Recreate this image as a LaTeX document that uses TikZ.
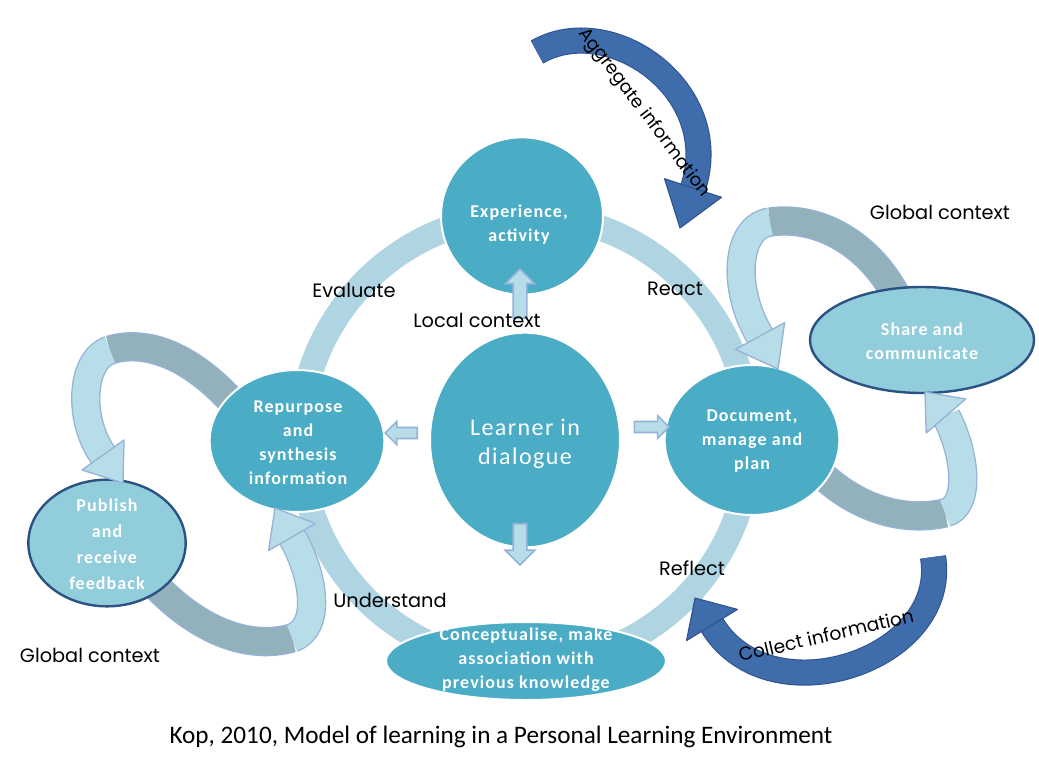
\documentclass[tikz,border=0pt]{standalone}
\usepackage{fontspec}
\setmainfont{Carlito}
\newfontfamily\handf{Poppins}
\newfontfamily\nodef[LetterSpace=6]{Carlito}
\usetikzlibrary{shapes.geometric,shapes.arrows}
\definecolor{nodeblue}{HTML}{4BACC6}
\definecolor{ringblue}{HTML}{B0D5E2}
\definecolor{paleblue}{HTML}{92CDDC}
\definecolor{darkedge}{HTML}{2A5283}
\definecolor{tailgray}{HTML}{93B1BB}
\definecolor{headlight}{HTML}{B7DDE8}
\definecolor{headedge}{HTML}{95B3D7}
\definecolor{deepblue}{HTML}{3F6DAB}
\definecolor{deepedge}{HTML}{2F528F}
\tikzset{
  mainnode/.style={ellipse, fill=nodeblue, draw=white, line width=1.5pt, inner sep=0pt},
  outnode/.style={ellipse, fill=paleblue, draw=darkedge, line width=1.8pt, inner sep=0pt},
  nodetext/.style={text=white, font=\nodef\bfseries\fontsize{13.5}{18}\selectfont, align=center, inner sep=0pt},
  handlbl/.style={font=\handf\fontsize{14.5}{17}\selectfont, inner sep=0pt},
  lightband/.style={draw=headedge, line width=1pt, double=headlight, double distance=20pt},
  grayband/.style={draw=headedge, line width=1pt, double=tailgray, double distance=20pt},
  lighthead/.style={fill=headlight, draw=headedge, line width=1pt, line join=round},
  deepband/.style={draw=deepedge, line width=0.8pt, double=deepblue, double distance=18pt},
  deephead/.style={fill=deepblue, draw=deepedge, line width=0.8pt, line join=round},
  smallarrow/.style={single arrow, fill=headlight, draw=headedge, line width=1.2pt,
     inner xsep=0pt, inner ysep=4.5pt, single arrow head extend=6pt, single arrow head indent=0pt}
}
\begin{document}
\begin{tikzpicture}[x=0.75pt,y=-0.75pt]
\useasboundingbox[fill=white] (0,0) rectangle (1039,760);

% main ring
\draw[ringblue, line width=19pt] (525,440) circle[radius=225];

% global context bands (drawn below nodes)
\coordinate (g1a) at (897,297); \coordinate (g1b) at (770,222); \coordinate (g1c) at (760,336);
\draw[grayband] (g1a) .. controls (870,245) and (820,215) .. (g1b);
\draw[lightband] (g1b) .. controls (735,227) and (732,290) .. (g1c);

\coordinate (g2a) at (822,475); \coordinate (g2b) at (945,513); \coordinate (g2c) at (946,416);
\draw[grayband] (g2a) .. controls (860,510) and (905,522) .. (g2b);
\draw[lightband] (g2b) .. controls (972,506) and (965,452) .. (g2c);

\coordinate (g3a) at (235,405); \coordinate (g3b) at (110,350); \coordinate (g3c) at (103,455);
\draw[grayband] (g3a) .. controls (195,360) and (150,338) .. (g3b);
\draw[lightband] (g3b) .. controls (80,360) and (78,420) .. (g3c);

\coordinate (g4a) at (155,585); \coordinate (g4b) at (292,638); \coordinate (g4c) at (292,537);
\draw[grayband] (g4a) .. controls (200,632) and (250,650) .. (g4b);
\draw[lightband] (g4b) .. controls (322,628) and (314,575) .. (g4c);

% nodes
\node[mainnode, minimum width=121.5pt, minimum height=118pt] (exp) at (522,216) {};
\node[mainnode, minimum width=142.5pt, minimum height=161pt] (learner) at (525,440) {};
\node[mainnode, minimum width=131pt, minimum height=106.5pt] (repurpose) at (297,441) {};
\node[mainnode, minimum width=131pt, minimum height=112.5pt] (document) at (752,440) {};
\node[mainnode, minimum width=210pt, minimum height=58.5pt] (concept) at (526,661) {};
\node[outnode, minimum width=168pt, minimum height=79.5pt] (share) at (922,340) {};
\node[outnode, minimum width=118pt, minimum height=95pt] (publish) at (107,543) {};

\node[nodetext] (texp) at (519,225) {Experience,\\activity};
\node[nodetext, font=\nodef\fontsize{18}{22}\selectfont] (tlearner) at (525,444) {Learner in\\dialogue};
\node[nodetext] (trep) at (298,443) {Repurpose\\and\\synthesis\\information};
\node[nodetext] (tdoc) at (752,441) {Document,\\manage and\\plan};
\node[nodetext] (tcon) at (526,660) {Conceptualise, make\\association with\\previous knowledge};
\node[nodetext] (tshare) at (922,341) {Share and\\communicate};
\node[nodetext, font=\nodef\bfseries\fontsize{13.5}{19.5}\selectfont] (tpub) at (107,544) {Publish\\and\\receive\\feedback};

% heads of global context arrows
\draw[lighthead] (784.6,322.6) -- (778,369) -- (735.4,349.4) -- cycle;
\draw[lighthead] (965.8,399) -- (925,392) -- (926.2,433) -- cycle;
\draw[lighthead] (124,440) -- (123,483) -- (82,470) -- cycle;
\draw[lighthead] (315.4,523.5) -- (275,508) -- (268.6,550.5) -- cycle;

% small arrows from learner
\node[smallarrow, minimum height=37pt, rotate=90] (aup) at (520,297) {};
\node[smallarrow, minimum height=31pt, rotate=-90] (adown) at (520,541) {};
\node[smallarrow, minimum height=26pt, inner ysep=3.5pt, single arrow head extend=4.5pt] (aright) at (649,427) {};
\node[smallarrow, minimum height=24pt, inner ysep=3.5pt, single arrow head extend=4.5pt, rotate=180] (aleft) at (404,433) {};

% dark arrows
\coordinate (d1a) at (537,52); \coordinate (d1b) at (693,188);
\draw[deepband] (d1a) .. controls (610,10) and (725,90) .. (d1b);
\draw[deephead] (721.5,197.3) -- (680,228) -- (664.5,178.7) -- cycle;
\coordinate (d2a) at (933,557); \coordinate (d2b) at (712,625);
\draw[deepband] (d2a) .. controls (950,660) and (770,720) .. (d2b);
\draw[deephead] (737.5,609.4) -- (695,598) -- (686.5,640.6) -- cycle;

% labels
\node[handlbl] (levaluate) at (354,290) {Evaluate};
\node[handlbl] (lreact) at (675,289) {React};
\node[handlbl] (llocal) at (477,320) {Local context};
\node[handlbl] (lreflect) at (692,568) {Reflect};
\node[handlbl] (lunder) at (390,600) {Understand};
\node[handlbl] (lglob1) at (940,212) {Global context};
\node[handlbl] (lglob2) at (90,655) {Global context};
\node[handlbl, font=\handf\fontsize{13.5}{16}\selectfont, rotate=-53] (lagg) at (644,113) {Aggregate information};
\node[handlbl, font=\handf\fontsize{14}{16}\selectfont, rotate=13] (lcoll) at (826,635) {Collect information};

% caption
\node[font=\fontsize{18.9}{22}\selectfont, inner sep=0pt] (cap) at (501,737) {Kop, 2010, Model of learning in a Personal Learning Environment};
\end{tikzpicture}
\end{document}
